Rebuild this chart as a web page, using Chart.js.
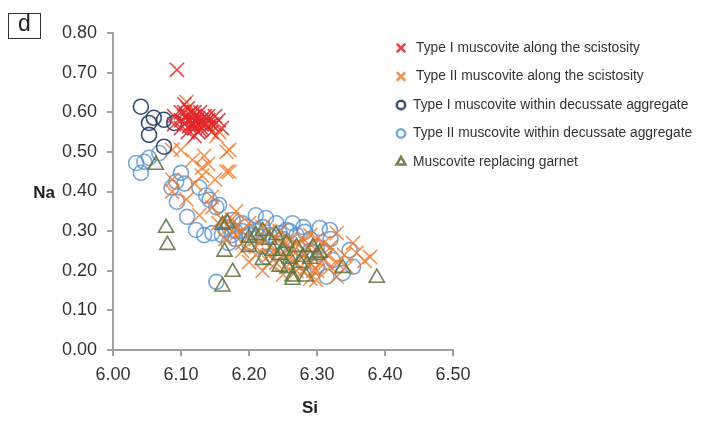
<!DOCTYPE html>
<html>
<head>
<meta charset="utf-8">
<script src="https://cdn.jsdelivr.net/npm/chart.js@4.4.1/dist/chart.umd.min.js"></script>
<style>
    html, body { margin: 0; padding: 0; background: #fff; }
    #wrap { width: 703px; height: 424px; }
</style>
</head>
<body>
<div id="wrap"><canvas id="chart" width="703" height="424"></canvas></div>
<script>
// 数据 (Si, Na)
const typeISchist = [
    [6.094, 0.707], [6.10, 0.60], [6.105, 0.62], [6.11, 0.61], [6.115, 0.60], [6.12, 0.59],
    [6.12, 0.58], [6.125, 0.57], [6.13, 0.58], [6.11, 0.58], [6.115, 0.57], [6.12, 0.56],
    [6.105, 0.57], [6.10, 0.58], [6.13, 0.56], [6.135, 0.57], [6.14, 0.58], [6.145, 0.55],
    [6.15, 0.57], [6.155, 0.58], [6.16, 0.56], [6.15, 0.59], [6.125, 0.55], [6.12, 0.54],
    [6.11, 0.55], [6.115, 0.60], [6.128, 0.60], [6.135, 0.59], [6.10, 0.56], [6.09, 0.59],
    [6.09, 0.57], [6.118, 0.585], [6.122, 0.575], [6.108, 0.59], [6.14, 0.565],
    [6.118, 0.57], [6.125, 0.585], [6.13, 0.57], [6.112, 0.565], [6.128, 0.555], [6.14, 0.59],
    [6.105, 0.60], [6.12, 0.60], [6.133, 0.575], [6.145, 0.57]
];
const typeIISchist = [
    [6.087, 0.505], [6.171, 0.505], [6.117, 0.48], [6.131, 0.46], [6.171, 0.45], [6.087, 0.43],
    [6.137, 0.575], [6.152, 0.54], [6.108, 0.626], [6.156, 0.55], [6.167, 0.50], [6.10, 0.505],
    [6.134, 0.49], [6.131, 0.44], [6.167, 0.45], [6.108, 0.38], [6.087, 0.40], [6.127, 0.34],
    [6.146, 0.36], [6.181, 0.35], [6.145, 0.386], [6.16, 0.33], [6.17, 0.31], [6.19, 0.30],
    [6.20, 0.32], [6.18, 0.29], [6.21, 0.28], [6.20, 0.222], [6.22, 0.31], [6.23, 0.30],
    [6.24, 0.28], [6.25, 0.27], [6.23, 0.26], [6.24, 0.25], [6.25, 0.24], [6.26, 0.23],
    [6.27, 0.22], [6.26, 0.26], [6.27, 0.27], [6.28, 0.28], [6.29, 0.29], [6.28, 0.24],
    [6.29, 0.22], [6.30, 0.20], [6.30, 0.25], [6.31, 0.27], [6.32, 0.26], [6.31, 0.23],
    [6.299, 0.177], [6.329, 0.185], [6.343, 0.21], [6.358, 0.245], [6.353, 0.27], [6.329, 0.295],
    [6.378, 0.235], [6.37, 0.225], [6.34, 0.24], [6.33, 0.22], [6.22, 0.20], [6.21, 0.24],
    [6.19, 0.27], [6.155, 0.32], [6.165, 0.28], [6.175, 0.33], [6.245, 0.30], [6.265, 0.25],
    [6.285, 0.26], [6.295, 0.20], [6.305, 0.22], [6.315, 0.24], [6.255, 0.21], [6.23, 0.22],
    [6.21, 0.26], [6.22, 0.28], [6.24, 0.22], [6.25, 0.19], [6.27, 0.20], [6.28, 0.20],
    [6.29, 0.18], [6.23, 0.24], [6.26, 0.28], [6.30, 0.28], [6.32, 0.21], [6.19, 0.25],
    [6.18, 0.31], [6.15, 0.43], [6.12, 0.42], [6.14, 0.47]
];
const typeIAggregate = [
    [6.041, 0.614], [6.060, 0.586], [6.053, 0.573], [6.075, 0.581], [6.090, 0.573],
    [6.053, 0.543], [6.075, 0.513]
];
const typeIIAggregate = [
    [6.034, 0.472], [6.046, 0.475], [6.053, 0.485], [6.041, 0.447], [6.068, 0.497], [6.10, 0.447],
    [6.093, 0.425], [6.105, 0.42], [6.086, 0.41], [6.094, 0.374], [6.109, 0.336], [6.127, 0.41],
    [6.137, 0.39], [6.152, 0.36], [6.122, 0.303], [6.134, 0.29], [6.146, 0.295], [6.171, 0.31],
    [6.152, 0.172], [6.142, 0.379], [6.156, 0.366], [6.176, 0.328], [6.196, 0.311], [6.225, 0.333],
    [6.24, 0.32], [6.255, 0.303], [6.215, 0.286], [6.225, 0.235], [6.304, 0.308], [6.319, 0.303],
    [6.282, 0.298], [6.264, 0.32], [6.348, 0.252], [6.353, 0.21], [6.314, 0.185], [6.338, 0.194],
    [6.323, 0.227], [6.16, 0.29], [6.18, 0.28], [6.19, 0.30], [6.20, 0.29], [6.21, 0.30],
    [6.23, 0.29], [6.25, 0.28], [6.27, 0.29], [6.29, 0.28], [6.30, 0.26], [6.31, 0.25],
    [6.22, 0.26], [6.24, 0.27], [6.26, 0.24], [6.28, 0.22], [6.30, 0.21], [6.21, 0.34],
    [6.19, 0.32], [6.165, 0.305], [6.175, 0.29], [6.20, 0.27], [6.22, 0.31], [6.245, 0.295],
    [6.26, 0.30], [6.28, 0.31], [6.29, 0.25], [6.32, 0.28], [6.18, 0.30], [6.17, 0.27]
];
const garnet = [
    [6.063, 0.467], [6.078, 0.308], [6.08, 0.265], [6.161, 0.316], [6.168, 0.32], [6.164, 0.248],
    [6.176, 0.197], [6.161, 0.16], [6.20, 0.283], [6.20, 0.26], [6.23, 0.278], [6.22, 0.227],
    [6.245, 0.21], [6.257, 0.207], [6.264, 0.177], [6.27, 0.26], [6.294, 0.26], [6.279, 0.235],
    [6.264, 0.185], [6.284, 0.185], [6.338, 0.207], [6.388, 0.182], [6.304, 0.245], [6.21, 0.29],
    [6.22, 0.30], [6.24, 0.29], [6.25, 0.25], [6.26, 0.23], [6.275, 0.22], [6.29, 0.23],
    [6.30, 0.24], [6.255, 0.27], [6.235, 0.25], [6.245, 0.24]
];

const xTicks = [6.0, 6.1, 6.2, 6.3, 6.4, 6.5];
const yTicks = [0.0, 0.1, 0.2, 0.3, 0.4, 0.5, 0.6, 0.7, 0.8];

const seriesNames = [
    'Type I muscovite along the scistosity',
    'Type II muscovite along the scistosity',
    'Type I muscovite within decussate aggregate',
    'Type II muscovite within decussate aggregate',
    'Muscovite replacing garnet'
];

const toPoints = arr => arr.map(p => ({ x: p[0], y: p[1] }));

const FONT = '"Liberation Sans", Arial, sans-serif';

// 自定义图例和标签
const annotatePlugin = {
    id: 'annotate',
    afterDraw(chart) {
        const ctx = chart.ctx;
        ctx.save();

        // 图例
        const legendX = 401;
        const legendY = 48;
        const rowH = 28.5;
        const markerSizes = [6, 6, 4.2, 4.2, 5.2];
        const textX = [416, 416, 413, 413, 413];
        chart.data.datasets.forEach((ds, i) => {
            const y = legendY + i * rowH;
            ctx.strokeStyle = ds.borderColor;
            ctx.fillStyle = 'rgba(0,0,0,0)';
            ctx.lineWidth = 2.5;
            Chart.helpers.drawPoint(ctx, {
                pointStyle: ds.pointStyle,
                radius: markerSizes[i],
                rotation: 0,
                borderWidth: 2.5
            }, legendX, y);
            ctx.fillStyle = '#333';
            ctx.font = '13.8px ' + FONT;
            ctx.textAlign = 'left';
            ctx.textBaseline = 'middle';
            ctx.fillText(seriesNames[i], textX[i], y);
        });

        // 面板标签
        ctx.strokeStyle = '#333';
        ctx.lineWidth = 1;
        ctx.strokeRect(8.5, 13.5, 32, 25);
        ctx.fillStyle = '#222';
        ctx.font = '23px ' + FONT;
        ctx.textAlign = 'center';
        ctx.textBaseline = 'middle';
        ctx.fillText('d', 24.5, 25);

        // 轴标题
        ctx.font = 'bold 17px ' + FONT;
        ctx.fillText('Na', 44, 193);
        ctx.fillText('Si', 310, 408);
        ctx.restore();
    }
};

const ctx = document.getElementById('chart');

new Chart(ctx, {
    type: 'scatter',
    data: {
        datasets: [
            {
                label: seriesNames[0],
                data: toPoints(typeISchist),
                pointStyle: 'crossRot',
                pointRadius: 10,
                borderColor: 'rgba(226, 38, 40, 0.85)',
                backgroundColor: 'rgba(0,0,0,0)',
                pointBorderWidth: 1.6,
                order: 2
            },
            {
                label: seriesNames[1],
                data: toPoints(typeIISchist),
                pointStyle: 'crossRot',
                pointRadius: 10,
                borderColor: 'rgba(240, 120, 40, 0.8)',
                backgroundColor: 'rgba(0,0,0,0)',
                pointBorderWidth: 1.6,
                order: 4
            },
            {
                label: seriesNames[2],
                data: toPoints(typeIAggregate),
                pointStyle: 'circle',
                pointRadius: 7.5,
                borderColor: 'rgba(36, 60, 100, 0.9)',
                backgroundColor: 'rgba(0,0,0,0)',
                pointBorderWidth: 1.6,
                order: 3
            },
            {
                label: seriesNames[3],
                data: toPoints(typeIIAggregate),
                pointStyle: 'circle',
                pointRadius: 7.5,
                borderColor: 'rgba(86, 146, 210, 0.8)',
                backgroundColor: 'rgba(0,0,0,0)',
                pointBorderWidth: 1.6,
                order: 5
            },
            {
                label: seriesNames[4],
                data: toPoints(garnet),
                pointStyle: 'triangle',
                pointRadius: 8.7,
                borderColor: 'rgba(96, 120, 64, 0.9)',
                backgroundColor: 'rgba(0,0,0,0)',
                pointBorderWidth: 1.6,
                order: 1
            }
        ]
    },
    options: {
        responsive: false,
        animation: false,
        events: [],
        layout: {
            padding: { top: 33, right: 250, bottom: 0, left: 0 }
        },
        plugins: {
            legend: { display: false },
            tooltip: { enabled: false },
            title: { display: false }
        },
        scales: {
            x: {
                type: 'linear',
                min: xTicks[0],
                max: xTicks[xTicks.length - 1],
                afterBuildTicks: axis => { axis.ticks = xTicks.map(v => ({ value: v })); },
                afterFit: axis => { axis.height = 74; },
                border: { color: '#a0a0a0', width: 2 },
                grid: { drawOnChartArea: false, color: '#a0a0a0', lineWidth: 2, tickLength: 6 },
                ticks: {
                    color: '#333',
                    font: { family: FONT, size: 18 },
                    padding: 8,
                    maxRotation: 0,
                    callback: v => Number(v).toFixed(2)
                }
            },
            y: {
                type: 'linear',
                min: yTicks[0],
                max: yTicks[yTicks.length - 1],
                afterBuildTicks: axis => { axis.ticks = yTicks.map(v => ({ value: v })); },
                afterFit: axis => { axis.width = 113; },
                border: { color: '#a0a0a0', width: 2 },
                grid: { drawOnChartArea: false, color: '#a0a0a0', lineWidth: 2, tickLength: 6 },
                ticks: {
                    color: '#333',
                    font: { family: FONT, size: 18 },
                    padding: 10,
                    callback: v => Number(v).toFixed(2)
                }
            }
        }
    },
    plugins: [annotatePlugin]
});
</script>
</body>
</html>
